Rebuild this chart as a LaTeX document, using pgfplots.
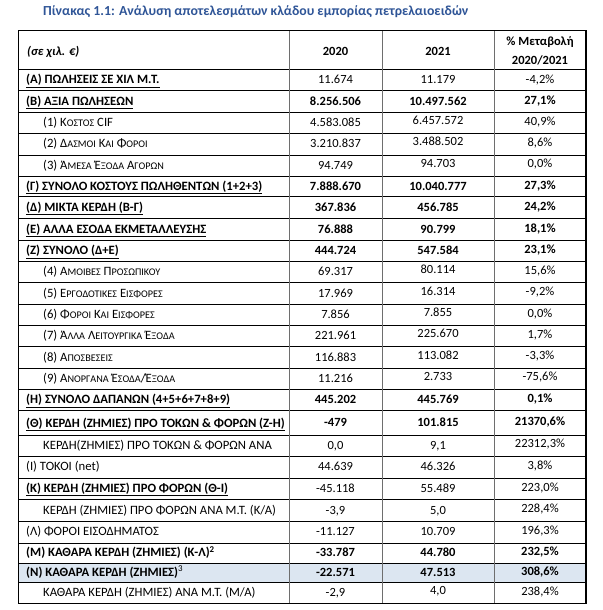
\documentclass[border=0pt]{standalone}
\usepackage{fontspec}
\setmainfont{Carlito}
\usepackage{pgfplots}
\pgfplotsset{compat=1.18}
\usepackage{pgfplotstable}
\definecolor{titleblue}{HTML}{2F5597}
\definecolor{rowshade}{HTML}{DCE6F1}
\definecolor{vline}{HTML}{6E6E6E}
\newcommand\s[1]{{\fontsize{10.2}{11}\selectfont #1}}

% regular-weight rows: y(2020) 2020 y(2021) 2021 y(%) %
\pgfplotstableread{
ya    a          yb     b          yc     c
80.0  11.674     80.0   11.179     80.0   -4,2
123.0 4.583.085  121.0  6.457.572  121.5  40,9
144.2 3.210.837  142.2  3.488.502  142.7  8,6
165.9 94.749     163.9  94.703     164.4  0,0
272.2 69.317     270.2  80.114     270.7  15,6
293.5 17.969     291.5  16.314     292.0  -9,2
315.0 7.856      313.0  7.855      313.5  0,0
336.2 221.961    334.2  225.670    334.7  1,7
357.5 116.883    355.5  113.082    356.0  -3,3
378.8 11.216     376.8  2.733      377.3  -75,6
445.5 0,0        445.5  9,1        444.0  22312,3
467.0 44.639     467.0  46.326     466.0  3,8
488.8 -45.118    488.8  55.489     487.5  223,0
510.5 -3,9       510.5  5,0        509.0  228,4
532.3 -11.127    532.3  10.709     531.0  196,3
592.6 -2,9       590.6  4,0        591.5  238,4
}\normaltab

% bold rows
\pgfplotstableread{
ya    a          yb     b          yc     c
101.7 8.256.506  101.7  10.497.562 100.7  27,1
186.7 7.888.670  186.7  10.040.777 185.7  27,3
207.6 367.836    207.6  456.785    206.6  24,2
229.6 76.888     229.6  90.799     228.6  18,1
251.2 444.724    251.2  547.584    250.2  23,1
400.0 445.202    400.0  445.769    399.0  0,1
422.8 -479       422.8  101.815    421.8  21370,6
553.2 -33.787    553.2  44.780     552.2  232,5
572.7 -22.571    572.7  47.513     571.7  308,6
}\boldtab

\begin{document}
\begin{tikzpicture}[
  lab/.style={anchor=west, inner sep=0pt, font=\fontsize{12.7}{15}\selectfont, text height=9pt, text depth=2pt},
  hdr/.style={anchor=center, inner sep=0pt, font=\fontsize{12.5}{14}\selectfont\bfseries, text height=9pt, text depth=2pt}
]
\begin{axis}[
  width=602pt, height=610pt, scale only axis,
  xmin=0, xmax=602, ymin=0, ymax=610, y dir=reverse,
  axis lines=none, clip=false,
  every node near coord/.append style={anchor=center, inner sep=0pt, text height=9pt, text depth=2pt},
]
% shaded row
\fill[fill=rowshade] (axis cs:18.3,563.5) rectangle (axis cs:586,582);

% inner horizontal lines
\pgfplotsinvokeforeach{69.3,90.7,112.7,133.3,155,176.7,196.7,218.5,240.7,261.7,282.7,304.3,325.7,346.7,368.3,389.3,410.7,435,456,478.3,499.3,521.7,543,563.5,582}{
  \draw[black, line width=0.8pt] (axis cs:18.3,#1) -- (axis cs:586,#1);
}
% vertical inner lines
\pgfplotsinvokeforeach{289.3,382,494}{
  \draw[vline, line width=0.8pt] (axis cs:#1,30.7) -- (axis cs:#1,603.3);
}
% outer border
\draw[black, line width=1.2pt] (axis cs:18.3,30.7) rectangle (axis cs:586,603.3);

% numbers, regular
\addplot[draw=none, nodes near coords={\pgfplotspointmeta}, point meta=explicit symbolic,
  every node near coord/.append style={font=\fontsize{12.5}{14}\selectfont}]
  table[x expr=335.5, y=ya, meta=a] {\normaltab};
\addplot[draw=none, nodes near coords={\pgfplotspointmeta}, point meta=explicit symbolic,
  every node near coord/.append style={font=\fontsize{12.5}{14}\selectfont}]
  table[x expr=438, y=yb, meta=b] {\normaltab};
\addplot[draw=none, nodes near coords={\pgfplotspointmeta\%}, point meta=explicit symbolic,
  every node near coord/.append style={font=\fontsize{12.5}{14}\selectfont}]
  table[x expr=540, y=yc, meta=c] {\normaltab};
% numbers, bold
\addplot[draw=none, nodes near coords={\pgfplotspointmeta}, point meta=explicit symbolic,
  every node near coord/.append style={font=\fontsize{12.5}{14}\selectfont\bfseries}]
  table[x expr=335.5, y=ya, meta=a] {\boldtab};
\addplot[draw=none, nodes near coords={\pgfplotspointmeta}, point meta=explicit symbolic,
  every node near coord/.append style={font=\fontsize{12.5}{14}\selectfont\bfseries}]
  table[x expr=438, y=yb, meta=b] {\boldtab};
\addplot[draw=none, nodes near coords={\pgfplotspointmeta\%}, point meta=explicit symbolic,
  every node near coord/.append style={font=\fontsize{12.5}{14}\selectfont\bfseries}]
  table[x expr=540, y=yc, meta=c] {\boldtab};

% title
\node[anchor=west, inner sep=0pt, font=\fontsize{13.8}{16}\selectfont\bfseries\upshape, text=titleblue]
  at (axis cs:43,12) {Πίνακας 1.1: Ανάλυση αποτελεσμάτων κλάδου εμπορίας πετρελαιοειδών};

% header
\node[lab, font=\fontsize{12.5}{14}\selectfont\bfseries\itshape] at (axis cs:27,52) {(σε χιλ. €)};
\node[hdr] at (axis cs:335.5,52) {2020};
\node[hdr] at (axis cs:438,52) {2021};
\node[hdr] at (axis cs:540,42.5) {\% Μεταβολή};
\node[hdr] at (axis cs:540,61.5) {2020/2021};

% row labels
\node[lab] at (axis cs:26,80.0) {\textbf{\underline{(Α) ΠΩΛΗΣΕΙΣ ΣΕ ΧΙΛ Μ.Τ.}}};
\node[lab] at (axis cs:26,101.7) {\textbf{\underline{(Β) ΑΞΙΑ ΠΩΛΗΣΕΩΝ}}};
\node[lab] at (axis cs:43,123.0) {(1) Κ\s{ΟΣΤΟΣ} CIF};
\node[lab] at (axis cs:43,144.2) {(2) Δ\s{ΑΣΜΟΙ} Κ\s{ΑΙ} Φ\s{ΟΡΟΙ}};
\node[lab] at (axis cs:43,165.9) {(3) Ά\s{ΜΕΣΑ} Έ\s{ΞΟΔΑ} Α\s{ΓΟΡΩΝ}};
\node[lab] at (axis cs:26,186.7) {\textbf{\underline{(Γ) ΣΥΝΟΛΟ ΚΟΣΤΟΥΣ ΠΩΛΗΘΕΝΤΩΝ (1+2+3)}}};
\node[lab] at (axis cs:26,207.6) {\textbf{\underline{(Δ) ΜΙΚΤΑ ΚΕΡΔΗ (Β-Γ)}}};
\node[lab] at (axis cs:26,229.6) {\textbf{\underline{(Ε) ΑΛΛΑ ΕΣΟΔΑ ΕΚΜΕΤΑΛΛΕΥΣΗΣ}}};
\node[lab] at (axis cs:26,251.2) {\textbf{\underline{(Ζ) ΣΥΝΟΛΟ (Δ+Ε)}}};
\node[lab] at (axis cs:43,272.2) {(4) Α\s{ΜΟΙΒΕΣ} Π\s{ΡΟΣΩΠΙΚΟΥ}};
\node[lab] at (axis cs:43,293.5) {(5) Ε\s{ΡΓΟΔΟΤΙΚΕΣ} Ε\s{ΙΣΦΟΡΕΣ}};
\node[lab] at (axis cs:43,315.0) {(6) Φ\s{ΟΡΟΙ} Κ\s{ΑΙ} Ε\s{ΙΣΦΟΡΕΣ}};
\node[lab] at (axis cs:43,336.2) {(7) Ά\s{ΛΛΑ} Λ\s{ΕΙΤΟΥΡΓΙΚΑ} Έ\s{ΞΟΔΑ}};
\node[lab] at (axis cs:43,357.5) {(8) Α\s{ΠΟΣΒΕΣΕΙΣ}};
\node[lab] at (axis cs:43,378.8) {(9) Α\s{ΝΟΡΓΑΝΑ} Έ\s{ΣΟΔΑ}/Έ\s{ΞΟΔΑ}};
\node[lab] at (axis cs:26,400.0) {\textbf{\underline{(Η) ΣΥΝΟΛΟ ΔΑΠΑΝΩΝ (4+5+6+7+8+9)}}};
\node[lab] at (axis cs:26,423.5) {\textbf{\underline{(Θ) ΚΕΡΔΗ (ΖΗΜΙΕΣ) ΠΡΟ ΤΟΚΩΝ \& ΦΟΡΩΝ (Ζ-Η)}}};
\node[lab] at (axis cs:43,445.5) {ΚΕΡΔΗ(ΖΗΜΙΕΣ) ΠΡΟ ΤΟΚΩΝ \& ΦΟΡΩΝ ΑΝΑ};
\node[lab] at (axis cs:26,467.0) {(Ι) ΤΟΚΟΙ (net)};
\node[lab] at (axis cs:26,488.8) {\textbf{\underline{(Κ) ΚΕΡΔΗ (ΖΗΜΙΕΣ) ΠΡΟ ΦΟΡΩΝ (Θ-Ι)}}};
\node[lab] at (axis cs:43,510.5) {ΚΕΡΔΗ (ΖΗΜΙΕΣ) ΠΡΟ ΦΟΡΩΝ ΑΝΑ Μ.Τ. (Κ/Α)};
\node[lab] at (axis cs:26,532.3) {(Λ) ΦΟΡΟΙ ΕΙΣΟΔΗΜΑΤΟΣ};
\node[lab] at (axis cs:26,553.2) {\textbf{(Μ) ΚΑΘΑΡΑ ΚΕΡΔΗ (ΖΗΜΙΕΣ) (Κ-Λ)\textsuperscript{2}}};
\node[lab] at (axis cs:26,572.7) {\textbf{(Ν) ΚΑΘΑΡΑ ΚΕΡΔΗ (ΖΗΜΙΕΣ)}\textsuperscript{3}};
\node[lab] at (axis cs:43,592.6) {ΚΑΘΑΡΑ ΚΕΡΔΗ (ΖΗΜΙΕΣ) ΑΝΑ Μ.Τ. (Μ/Α)};
\end{axis}
\pgfresetboundingbox
\path (current axis.south west) rectangle (current axis.north east);
\end{tikzpicture}
\end{document}
